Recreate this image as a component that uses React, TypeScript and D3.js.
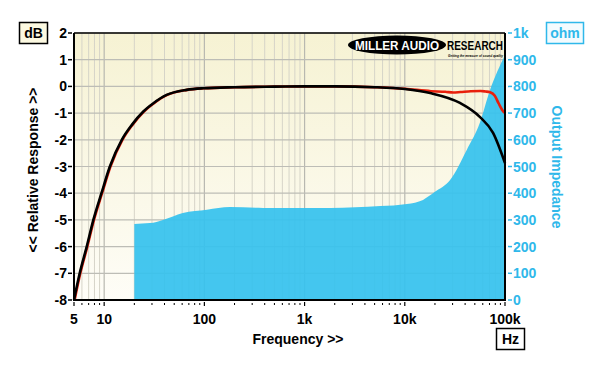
import React from "react";
import * as d3 from "d3";

const width = 600;
const height = 368;
const plot = { left: 74, right: 505, top: 33, bottom: 300 };

// response (black), Hz / dB
const blackFreq = [5, 5.7, 6.7, 7.8, 9.4, 11.4, 15, 18.9, 24.6, 31, 42, 66.5, 97, 200, 500, 1000, 2000, 5000, 10000, 17900, 35500, 56000, 76000, 100000];
const blackDb = [-8, -7, -6, -5, -4, -3, -2, -1.44, -0.94, -0.63, -0.32, -0.13, -0.07, -0.03, -0.01, 0, 0, -0.03, -0.1, -0.25, -0.62, -1.14, -1.74, -2.87];

// response (red)
const redFreq = [5, 5.7, 6.7, 7.8, 9.4, 11.4, 15, 18.9, 24.6, 31, 42, 66.5, 97, 200, 500, 1000, 2000, 5000, 10000, 18000, 25000, 30000, 35500, 45000, 56000, 63000, 70000, 78000, 85000, 95000, 100000];
const redDb = [-8, -7, -6, -5, -4, -3, -2, -1.44, -0.94, -0.63, -0.32, -0.13, -0.07, -0.03, -0.01, 0, 0, -0.03, -0.09, -0.18, -0.2, -0.23, -0.21, -0.18, -0.17, -0.19, -0.22, -0.35, -0.63, -0.94, -1.0];

// output impedance, ohm
const zFreq = [20, 28.6, 38.6, 61, 106, 180, 385, 1800, 5700, 10500, 15200, 20000, 28300, 41500, 56000, 71000, 100000];
const zOhm = [285, 288, 300, 326, 338, 348, 345, 345, 352, 360, 375, 405, 449, 562, 663, 787, 918];

const dbTicks = [2, 1, 0, -1, -2, -3, -4, -5, -6, -7, -8];
const ohmTicks = [1000, 900, 800, 700, 600, 500, 400, 300, 200, 100, 0];
const ohmLabels = ["1k", "900", "800", "700", "600", "500", "400", "300", "200", "100", "0"];
const freqTicks = [5, 10, 100, 1000, 10000, 100000];
const freqLabels = ["5", "10", "100", "1k", "10k", "100k"];

const blue = "#2fb8ea";
const font = "Arial, 'Liberation Sans', sans-serif";

export default function App() {
  const x = d3.scaleLog().domain([5, 100000]).range([plot.left, plot.right]);
  const yDb = d3.scaleLinear().domain([-8, 2]).range([plot.bottom, plot.top]);
  const yOhm = d3.scaleLinear().domain([0, 1000]).range([plot.bottom, plot.top]);

  // minor grid freqs
  const minor: number[] = [];
  [1, 10, 100, 1000, 10000].forEach(dec => {
    for (let m = 2; m <= 9; m++) {
      const f = m * dec;
      if (f > 5 && f < 100000) minor.push(f);
    }
  });
  const majors = [10, 100, 1000, 10000];

  const zData = zFreq.map((f, i) => [f, zOhm[i]] as [number, number]);
  const area = d3.area<[number, number]>()
    .x(d => x(d[0]))
    .y0(yOhm(0))
    .y1(d => yOhm(d[1]))
    .curve(d3.curveMonotoneX);

  const line = d3.line<[number, number]>()
    .x(d => x(d[0]))
    .y(d => yDb(d[1]))
    .curve(d3.curveMonotoneX);
  const blackData = blackFreq.map((f, i) => [f, blackDb[i]] as [number, number]);
  const redData = redFreq.map((f, i) => [f, redDb[i]] as [number, number]);

  return (
    <div style={{ position: "absolute", left: 0, top: 0 }}>
      <svg width={width} height={height} style={{ fontFamily: font, display: "block", background: "#fff" }}>
        <defs>
          <linearGradient id="bg" x1="0" y1="0" x2="0" y2="1">
            <stop offset="0%" stopColor="#f6f2d3" />
            <stop offset="100%" stopColor="#fefdf7" />
          </linearGradient>
        </defs>
        <rect x={plot.left} y={plot.top} width={plot.right - plot.left} height={plot.bottom - plot.top} fill="url(#bg)" />

        {/* grid */}
        {minor.map(f => (
          <line key={"m" + f} x1={x(f)} x2={x(f)} y1={plot.top} y2={plot.bottom} stroke="#d6d4c8" strokeWidth={1} />
        ))}
        {majors.map(f => (
          <line key={"M" + f} x1={x(f)} x2={x(f)} y1={plot.top} y2={plot.bottom} stroke="#b8b8b0" strokeWidth={1.2} />
        ))}
        {dbTicks.map(d => (
          <line key={"h" + d} x1={plot.left} x2={plot.right} y1={yDb(d)} y2={yDb(d)} stroke="#bdbdb6" strokeWidth={1.2} />
        ))}

        {/* impedance */}
        <path d={area(zData) || ""} fill="#36c2ee" fillOpacity={0.93} />

        {/* logo */}
        <g>
          <ellipse cx={397} cy={45} rx={49} ry={9.5} fill="#000" />
          <text x={355} y={50} fontSize={12.5} fontWeight="bold" fill="#fff" textLength={84} lengthAdjust="spacingAndGlyphs">MILLER AUDIO</text>
          <text x={447} y={50} fontSize={12.5} fontWeight="bold" fill="#000" textLength={56} lengthAdjust="spacingAndGlyphs">RESEARCH</text>
          <text x={448} y={57} fontSize={3.2} fontStyle="italic" fontWeight="bold" fill="#000" textLength={55} lengthAdjust="spacingAndGlyphs">Getting the measure of sound quality</text>
        </g>

        {/* response curves */}
        <path d={line(redData) || ""} fill="none" stroke="#e8200c" strokeWidth={2.6} transform="translate(0.6,0)" />
        <path d={line(blackData) || ""} fill="none" stroke="#000" strokeWidth={2.6} />

        {/* frame */}
        <line x1={plot.left} x2={plot.right} y1={plot.top} y2={plot.top} stroke="#000" strokeWidth={1.5} />
        <line x1={plot.right} x2={plot.right} y1={plot.top} y2={plot.bottom} stroke="#000" strokeWidth={2} />
        <line x1={plot.left} x2={plot.left} y1={plot.top} y2={plot.bottom + 1} stroke="#000" strokeWidth={2} />
        <line x1={plot.left - 1} x2={plot.right + 1} y1={plot.bottom} y2={plot.bottom} stroke="#000" strokeWidth={2} />

        {/* left axis */}
        {dbTicks.map(d => (
          <g key={"l" + d}>
            <line x1={68} x2={72} y1={yDb(d)} y2={yDb(d)} stroke="#000" strokeWidth={1.5} />
            <text x={67} y={yDb(d) + 5} textAnchor="end" fontSize={14} fontWeight="bold" fill="#000">{d}</text>
          </g>
        ))}

        {/* right axis */}
        {ohmTicks.map((o, i) => (
          <g key={"r" + o}>
            <line x1={508} x2={512} y1={yOhm(o)} y2={yOhm(o)} stroke={blue} strokeWidth={1.5} />
            <text x={513} y={yOhm(o) + 5} fontSize={14} fontWeight="bold" fill={blue}>{ohmLabels[i]}</text>
          </g>
        ))}

        {/* bottom axis */}
        {minor.map(f => (
          <line key={"bt" + f} x1={x(f)} x2={x(f)} y1={303} y2={305} stroke="#000" strokeWidth={1} />
        ))}
        {freqTicks.map((f, i) => (
          <g key={"b" + f}>
            <line x1={x(f)} x2={x(f)} y1={302} y2={306} stroke="#000" strokeWidth={1.2} />
            <text x={x(f)} y={324} textAnchor="middle" fontSize={14} fontWeight="bold" fill="#000">{freqLabels[i]}</text>
          </g>
        ))}

        {/* titles */}
        <text x={298} y={344} textAnchor="middle" fontSize={14} fontWeight="bold" fill="#000">Frequency &gt;&gt;</text>
        <text transform="translate(38,170) rotate(-90)" textAnchor="middle" fontSize={14} fontWeight="bold" fill="#000">&lt;&lt; Relative Response &gt;&gt;</text>
        <text transform="translate(552,167) rotate(90)" textAnchor="middle" fontSize={14} fontWeight="bold" fill={blue}>Output Impedance</text>

        {/* unit boxes */}
        <rect x={19.5} y={22.5} width={28} height={21} fill="#fcf9e1" stroke="#000" strokeWidth={1.5} />
        <text x={33.5} y={38} textAnchor="middle" fontSize={14} fontWeight="bold" fill="#000">dB</text>
        <rect x={546.5} y={22.5} width={37} height={21} fill="#f3fbfe" stroke={blue} strokeWidth={1.5} />
        <text x={565} y={38} textAnchor="middle" fontSize={14} fontWeight="bold" fill={blue}>ohm</text>
        <rect x={496.5} y={328.5} width={28} height={21} fill="#fff" stroke="#000" strokeWidth={1.5} />
        <text x={510.5} y={344} textAnchor="middle" fontSize={14} fontWeight="bold" fill="#000">Hz</text>
      </svg>
    </div>
  );
}
